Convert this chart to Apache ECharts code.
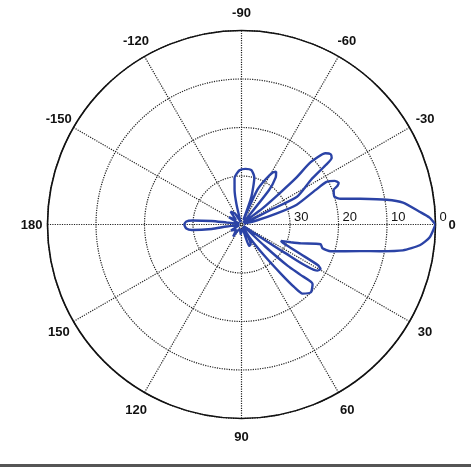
<!DOCTYPE html>
<html>
<head>
<meta charset="utf-8">
<script src="https://cdn.jsdelivr.net/npm/echarts@6/dist/echarts.min.js"></script>
<style>
html,body{margin:0;padding:0;background:#fff;}
#chart{width:471px;height:467px;}
</style>
</head>
<body>
<div id="chart"></div>
<script>
// Angle ticks (degrees, -180..180 convention as in the picture)
const angleTicks = [0, 30, 60, 90, 120, 150, 180, -150, -120, -90, -60, -30];
// Radial ring values (dB)
const radialTicks = [-40, -30, -20, -10, 0];

// Pattern trace, in drawing order: angle (deg) and level (dB)
const patternAngle = [
  0, -2.1, -4.1, -7.7, -9.65, -12.2, -14.6, -16.6, -20.6, -21.9, -23.2, -25.1, -26.6,
  -25.0, -19.7, -17.4, -15.0, -20, -26.6, -26.6, -32.7, -35.2, -36.4, -38.3, -40.3, -42.0,
  -40.5, -39.4, -37.7, -45, -51.3, -54, -56.7, -59, -62, -65.4, -67.5, -70.3, -74.8, -79.7,
  -85.9, -92.1, -98.5, -101.3, -104, -110, -120, -130, -140, -150, -160, -172.4, -173.3,
  -175.4, -176.9, -180, 175.9, 173.7, 171.5, 172.4, 165, 150, 135, 125, 110, 95, 80, 70, 65,
  60, 58, 53.7, 51.3, 49.9, 48.6, 44.3, 39.9, 40.5, 41.8, 43, 38, 33.2, 31.3, 29.4, 28.0,
  26.6, 23.7, 22.5, 19.8, 17.6, 14.0, 16.3, 16.7, 12.7, 10.9, 9.1, 6.65, 3.9, 0
];
const patternDb = [
  0, -1.2, -3.2, -6.4, -9.6, -14.9, -18.9, -20.0, -19.7, -18.7, -18.2, -18.8, -20.4,
  -23.1, -27.9, -32.5, -36.8, -39.5, -33.2, -27.2, -23.0, -18.8, -16.9, -16.6, -17.3, -20.8,
  -25.2, -29.7, -34.3, -39.5, -30.9, -28.0, -27.0, -27.5, -29.5, -32.1, -39, -34.0, -29.9, -28.6,
  -28.5, -28.8, -30.3, -32.7, -35.8, -39.5, -37.5, -36.5, -38.5, -37, -39.5, -36.9, -33.8,
  -29.8, -28.6, -28.2, -28.6, -29.7, -33.8, -36.9, -39.5, -37.5, -38.5, -37.0, -39, -38, -39, -35.3, -35.5,
  -39.5, -36.8, -32.0, -26.9, -23.1, -21.0, -20.0, -20.9, -24.0, -27.2, -33.5, -39.5, -29.4, -21.7, -21.3, -22.2,
  -26.3, -30.7, -31.2, -29.2, -27.1, -23.2, -22.6, -20.8, -15.0, -10.9, -6.3, -3.0, -1.1, 0
];

const data = patternAngle.map((a, i) => [patternDb[i], a < 0 ? a + 360 : a]);

// Label box paddings [top, right, bottom, left] so every angle label is centred on one circle
const labelPad = {
  '0':    [2, 0, 0, 22],
  '-30':  [0, 0, 6, 14],
  '-60':  [0, 0, 16, 3.5],
  '-90':  [0, 0, 19.5, 0],
  '-120': [0, 0, 16, 0],
  '-150': [0, 9.5, 6, 0],
  '180':  [2, 14, 0, 0],
  '150':  [9, 11.5, 0, 0],
  '120':  [19.5, 2, 0, 0],
  '90':   [21.5, 0, 0, 0],
  '60':   [19.5, 0, 0, 6],
  '30':   [9, 0, 0, 16]
};
const font = 'Liberation Sans, Arial, sans-serif';
const rich = {};
Object.keys(labelPad).forEach((k, i) => {
  rich['l' + i] = { padding: labelPad[k], fontSize: 13, fontWeight: 'bold', color: '#111', fontFamily: font };
});
const richKeys = Object.keys(labelPad);

const chart = echarts.init(document.getElementById('chart'), null, {renderer: 'canvas'});
chart.setOption({
  backgroundColor: '#ffffff',
  animation: false,
  polar: { center: [241.5, 224.5], radius: 194 },
  angleAxis: {
    type: 'value',
    min: 0, max: 360, interval: 30,
    startAngle: 0, clockwise: true,
    axisLine: { show: true, lineStyle: { color: '#111', width: 1.6 } },
    axisTick: { show: false },
    splitLine: { show: true, lineStyle: { color: '#222', type: 'dotted', width: 1.2 } },
    axisLabel: {
      margin: -9,
      color: '#111', fontSize: 13, fontWeight: 'bold', fontFamily: font,
      rich: rich,
      formatter: function (v) {
        if (v === 360) return '';
        const d = v > 180 ? v - 360 : v;
        const idx = richKeys.indexOf(String(d));
        return idx >= 0 ? '{l' + idx + '|' + d + '}' : '';
      }
    }
  },
  radiusAxis: {
    type: 'value',
    min: radialTicks[0], max: radialTicks[radialTicks.length - 1], interval: 10,
    axisLine: { show: false },
    axisTick: { show: false },
    splitLine: { show: true, lineStyle: { color: '#222', type: 'dotted', width: 1.2 } },
    axisLabel: {
      margin: 1,
      align: 'left', verticalAlign: 'bottom',
      padding: [0, 0, 0, 4],
      color: '#111', fontSize: 13, fontFamily: font,
      showMinLabel: true, showMaxLabel: true,
      formatter: function (v) { return v === -40 ? '' : String(-v); }
    }
  },
  series: [{
    type: 'line',
    coordinateSystem: 'polar',
    data: data,
    showSymbol: false,
    symbol: 'none',
    smooth: 0.2,
    lineStyle: { color: '#2b43a6', width: 2.4 },
    z: 5
  }],
  graphic: [{
    type: 'rect', left: 0, bottom: 0,
    shape: { width: 471, height: 3 },
    style: { fill: '#555' }
  }]
});
</script>
</body>
</html>
